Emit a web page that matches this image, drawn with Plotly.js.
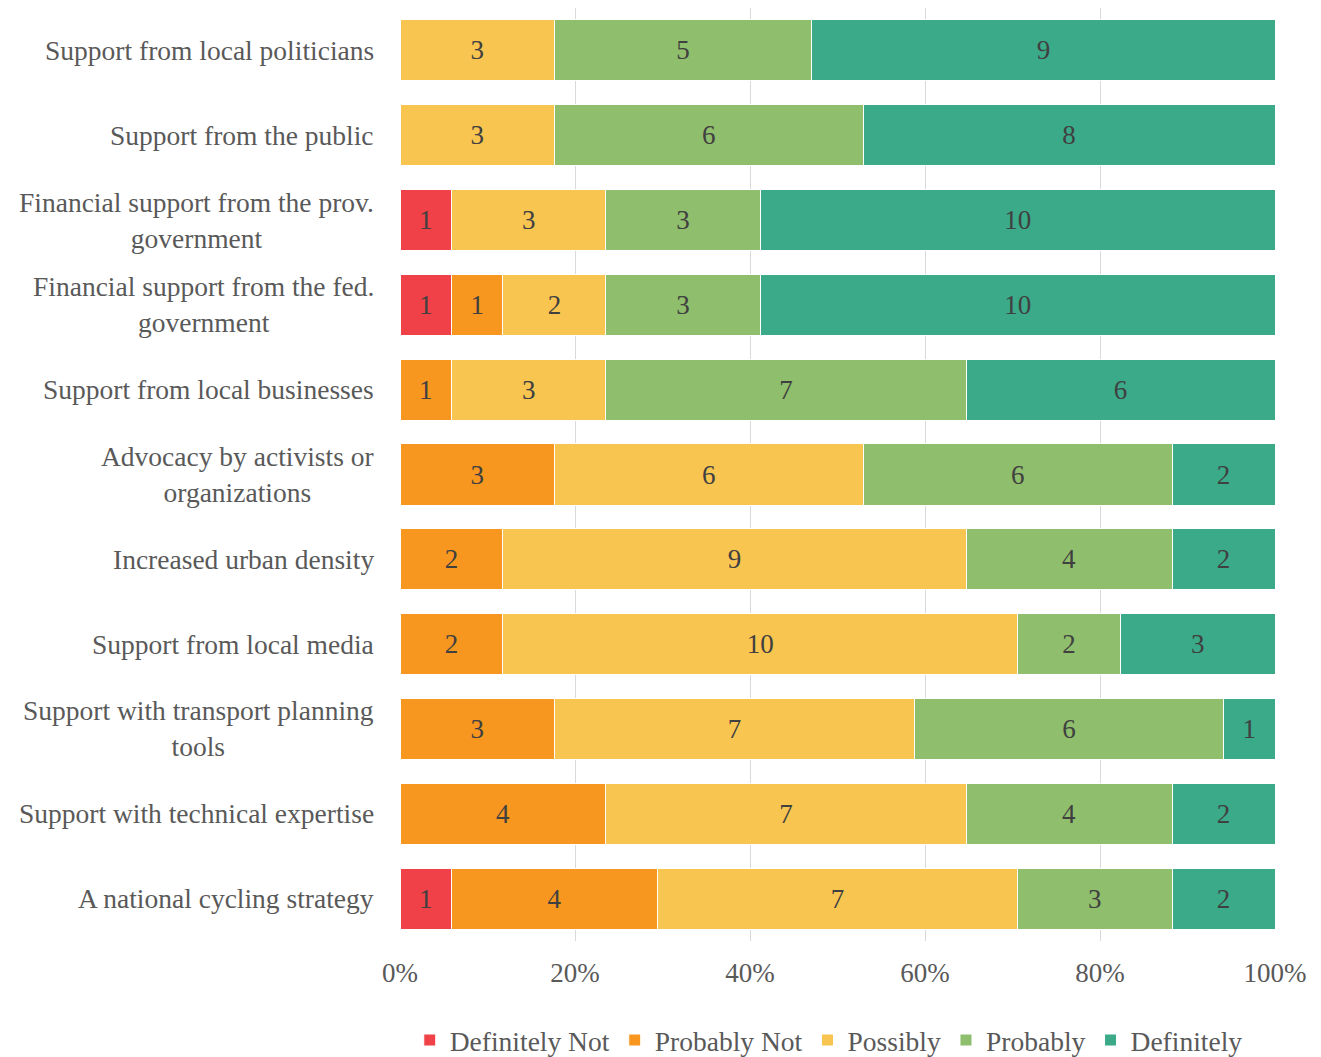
<!DOCTYPE html>
<html>
<head>
<meta charset="utf-8">
<script src="https://cdn.plot.ly/plotly-3.0.1.min.js"></script>
<style>html,body{margin:0;padding:0;background:#fff;}#chart{width:1321px;height:1057px;}</style>
</head>
<body>
<div id="chart"></div>
<script>
const categories = [
  "Support from local politicians",
  "Support from the public",
  "Financial support from the prov.<br>government",
  "Financial support from the fed.<br>government",
  "Support from local businesses",
  "Advocacy by activists or<br>organizations",
  "Increased urban density",
  "Support from local media",
  "Support with transport planning<br>tools",
  "Support with technical expertise",
  "A national cycling strategy"
];
const seriesNames = ["Definitely Not", "Probably Not", "Possibly", "Probably", "Definitely"];
const definitelyNot = [0, 0, 1, 1, 0, 0, 0, 0, 0, 0, 1];
const probablyNot   = [0, 0, 0, 1, 1, 3, 2, 2, 3, 4, 4];
const possibly      = [3, 3, 3, 2, 3, 6, 9, 10, 7, 7, 7];
const probably      = [5, 6, 3, 3, 7, 6, 4, 2, 6, 4, 3];
const definitely    = [9, 8, 10, 10, 6, 2, 2, 3, 1, 2, 2];
const tickVals = [0, 20, 40, 60, 80, 100];
const tickText = ["0%", "20%", "40%", "60%", "80%", "100%"];

const colors = ["#EF4147", "#F7971F", "#F8C550", "#8FBE6C", "#3AAA89"];
const seriesVals = [definitelyNot, probablyNot, possibly, probably, definitely];
const FONT = "'Liberation Serif', 'DejaVu Serif', 'Times New Roman', serif";

const traces = seriesVals.map((vals, i) => ({
  type: "bar",
  orientation: "h",
  name: seriesNames[i],
  y: categories,
  x: vals,
  text: vals.map(v => v ? String(v) : ""),
  texttemplate: "%{text}",
  textposition: "inside",
  insidetextanchor: "middle",
  textangle: 0,
  constraintext: "none",
  textfont: {family: FONT, size: 27, color: "#404040"},
  marker: {color: colors[i], line: {color: "#ffffff", width: 1}},
  hoverinfo: "none"
}));

const annotations = categories.map(c => ({
  xref: "paper", yref: "y",
  x: -0.027, y: c,
  xanchor: "right", yanchor: "middle",
  align: "center",
  text: c,
  showarrow: false,
  font: {family: FONT, size: 27.5, color: "#595959"}
}));

const layout = {
  width: 1321,
  height: 1057,
  barmode: "stack",
  barnorm: "percent",
  bargap: 0.28,
  margin: {l: 400, r: 46, t: 8, b: 116, autoexpand: false},
  paper_bgcolor: "#fff",
  plot_bgcolor: "#fff",
  font: {family: FONT, size: 27, color: "#595959"},
  showlegend: true,
  legend: {
    orientation: "h",
    x: 0.49, xanchor: "center",
    y: -0.08, yanchor: "top",
    font: {family: FONT, size: 27.5, color: "#595959"},
    traceorder: "normal",
    itemwidth: 30
  },
  annotations: annotations,
  xaxis: {
    range: [0, 100],
    tickvals: tickVals,
    ticktext: tickText,
    showgrid: true,
    gridcolor: "#D9D9D9",
    gridwidth: 1,
    zeroline: false,
    showline: false,
    ticks: "",
    ticklabelstandoff: 13,
    tickfont: {family: FONT, size: 27, color: "#595959"},
    fixedrange: true
  },
  yaxis: {
    autorange: "reversed",
    type: "category",
    showgrid: false,
    zeroline: false,
    showline: false,
    ticks: "",
    showticklabels: false,
    fixedrange: true
  }
};

Plotly.newPlot("chart", traces, layout, {displayModeBar: false, staticPlot: true});
</script>
</body>
</html>
